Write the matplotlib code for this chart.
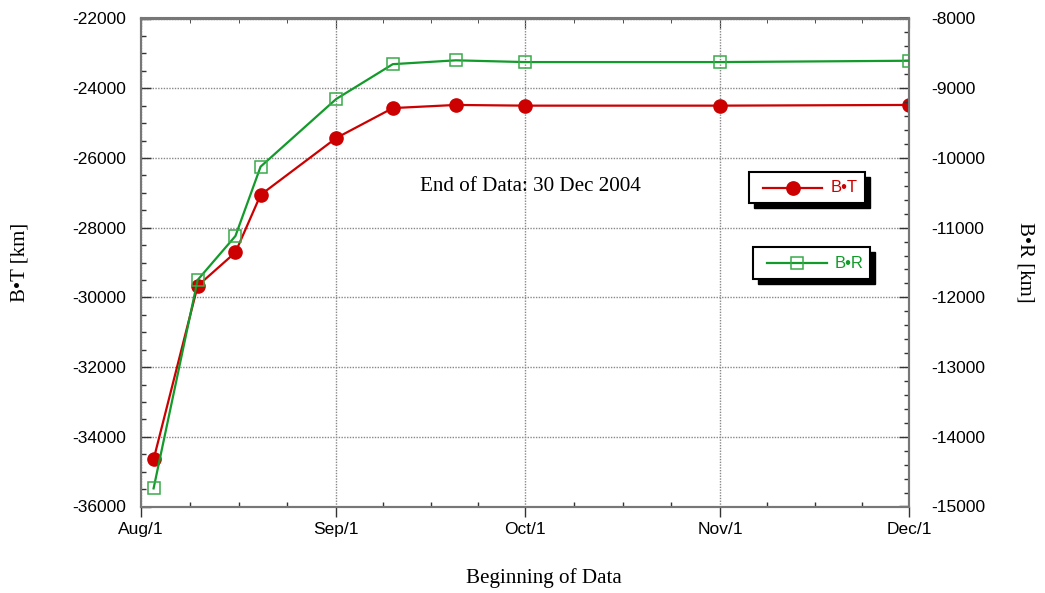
import datetime as dt
import matplotlib
matplotlib.use("Agg")
import matplotlib.pyplot as plt
import matplotlib.dates as mdates
from matplotlib.patches import Rectangle
from matplotlib.lines import Line2D
from matplotlib.ticker import MultipleLocator, FixedLocator

# data (dates in 2004)
dates = ["2004-08-03", "2004-08-10", "2004-08-16", "2004-08-20", "2004-09-01",
         "2004-09-10", "2004-09-20", "2004-10-01", "2004-11-01", "2004-12-01"]
b_dot_t = [-34650, -29670, -28710, -27060, -25430, -24570, -24480, -24500, -24500, -24480]
b_dot_r = [-14740, -11750, -11120, -10125, -9155, -8655, -8600, -8625, -8625, -8606]

month_starts = ["2004-08-01", "2004-09-01", "2004-10-01", "2004-11-01", "2004-12-01"]
month_labels = ["Aug/1", "Sep/1", "Oct/1", "Nov/1", "Dec/1"]

red = "#cc0000"
green = "#129a2a"
serif = ["Liberation Serif", "DejaVu Serif"]
sans = ["Liberation Sans", "DejaVu Sans"]


def to_num(s):
    return mdates.date2num(dt.datetime.strptime(s, "%Y-%m-%d"))


x = [to_num(d) for d in dates]
xmaj = [to_num(d) for d in month_starts]
# minor ticks: each month split in four
xmin_ticks = []
for a, b in zip(xmaj[:-1], xmaj[1:]):
    xmin_ticks += [a + k * (b - a) / 4 for k in (1, 2, 3)]

plt.rcParams['font.family'] = sans
plt.rcParams['axes.unicode_minus'] = False

fig = plt.figure(figsize=(10.45, 5.93), dpi=100)
ax = fig.add_axes([141 / 1045, 1 - 506.5 / 593, 768 / 1045, 488 / 593])
ax2 = ax.twinx()

ax.plot(x, b_dot_t, color=red, lw=1.6, marker='o', ms=9.5, mfc=red, mec=red, zorder=5)
ax2.plot(x, b_dot_r, color=green, lw=1.6, marker='s', ms=9, mfc='none',
         mec='#3aaa4a', mew=1.1, zorder=5)

ax.set_xlim(xmaj[0], xmaj[-1])
ax.set_ylim(-36000, -22000)
ax2.set_ylim(-15000, -8000)

ax.xaxis.set_major_locator(FixedLocator(xmaj))
ax.xaxis.set_minor_locator(FixedLocator(xmin_ticks))
ax.set_xticklabels(month_labels)
ax.yaxis.set_major_locator(MultipleLocator(2000))
ax.yaxis.set_minor_locator(MultipleLocator(500))
ax2.yaxis.set_major_locator(MultipleLocator(1000))
ax2.yaxis.set_minor_locator(MultipleLocator(200))

tick_col = "#333333"
ax.tick_params(axis='x', which='major', direction='out', length=7, width=1, color=tick_col,
               labelsize=12.5, pad=4)
ax.tick_params(axis='x', which='minor', direction='in', length=3.5, width=1, color=tick_col)
ax.tick_params(axis='y', which='major', direction='in', length=7, width=1, color=tick_col,
               labelsize=12.5, pad=11)
ax.tick_params(axis='y', which='minor', direction='in', length=3.5, width=1, color=tick_col)
ax2.tick_params(axis='y', which='major', direction='in', length=7, width=1, color=tick_col,
                labelsize=12.5, pad=16)
ax2.tick_params(axis='y', which='minor', direction='in', length=3.5, width=1, color=tick_col)

top = ax.secondary_xaxis('top')
top.xaxis.set_major_locator(FixedLocator(xmaj))
top.xaxis.set_minor_locator(FixedLocator(xmin_ticks))
top.tick_params(which='major', direction='in', length=7, color=tick_col, labeltop=False)
top.tick_params(which='minor', direction='in', length=3.5, color=tick_col)
top.spines['top'].set_color('#777777')
top.spines['top'].set_linewidth(1.5)

for a in (ax, ax2):
    for s in a.spines.values():
        s.set_color('#777777')
        s.set_linewidth(1.5)

ax.grid(True, which='major', color='#888888', linestyle=(0, (1, 1)), linewidth=1)
ax.set_axisbelow(True)

ax.set_xlabel("Beginning of Data", family=serif, fontsize=15.2, va='center')
ax.xaxis.set_label_coords(0.525, -0.1465)
ax.set_ylabel("B\u2022T [km]", family=serif, fontsize=15, va='center')
ax.yaxis.set_label_coords(-0.157, 0.5)
ax2.set_ylabel("B\u2022R [km]", family=serif, fontsize=15, rotation=270, va='center')
ax2.yaxis.set_label_coords(1.151, 0.5)

ax.text(0.5065, 0.655, "End of Data: 30 Dec 2004", transform=ax.transAxes,
        ha='center', va='center', family=serif, fontsize=15.2)


def legend_box(x0, y0, x1, y1, color, marker, mfc, mec, label):
    sx, sy = 5 / 768, 5 / 488
    ax2.add_patch(Rectangle((x0 + sx, y0 - sy), x1 - x0, y1 - y0, transform=ax.transAxes,
                            facecolor='black', edgecolor='black', zorder=8, clip_on=False))
    ax2.add_patch(Rectangle((x0, y0), x1 - x0, y1 - y0, transform=ax.transAxes,
                            facecolor='white', edgecolor='black', lw=1.5, zorder=9, clip_on=False))
    w = x1 - x0
    ym = (y0 + y1) / 2
    ax2.add_line(Line2D([x0 + 0.12 * w, x0 + 0.63 * w], [ym, ym], transform=ax.transAxes,
                        color=color, lw=1.6, zorder=10))
    ax2.add_line(Line2D([x0 + 0.375 * w], [ym], transform=ax.transAxes, marker=marker,
                        ms=9.5 if marker == 'o' else 9, mfc=mfc, mec=mec, mew=1.1, zorder=11))
    ax2.text(x0 + 0.70 * w, ym, label, transform=ax.transAxes, color=color,
             fontsize=12, va='center', ha='left', zorder=12)


legend_box(0.792, 0.621, 0.943, 0.686, red, 'o', red, red, "B\u2022T")
legend_box(0.797, 0.4656, 0.949, 0.531, green, 's', 'none', '#3aaa4a', "B\u2022R")

fig.savefig("out.png", dpi=100)
